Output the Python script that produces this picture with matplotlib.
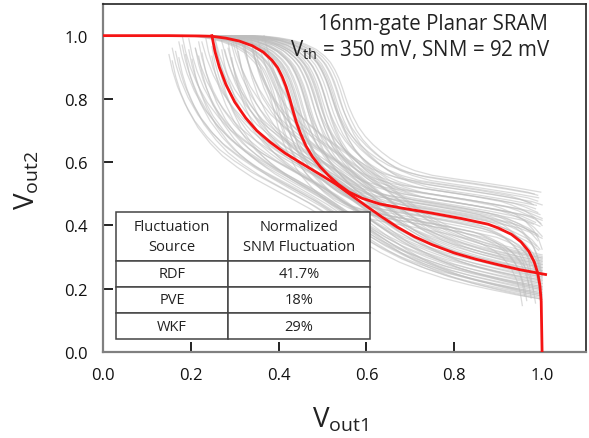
import matplotlib.pyplot as plt
import numpy as np

plt.rcParams['font.family'] = ['Open Sans', 'DejaVu Sans']

# Butterfly curves (red): inverter 1 as Vout2 = f(Vout1), inverter 2 as Vout1 = g(Vout2)
vtc1_x = [0.0, 0.15, 0.22, 0.248, 0.28, 0.31, 0.34, 0.365, 0.385, 0.398, 0.408, 0.417,
          0.425, 0.432, 0.440, 0.450, 0.462, 0.477, 0.495, 0.515, 0.535, 0.56, 0.59, 0.63,
          0.68, 0.745, 0.816, 0.877, 0.90, 0.93, 0.952, 0.97, 0.982, 0.99, 0.995, 0.998, 1.0]
vtc1_y = [1.0, 1.0, 0.999, 0.998, 0.992, 0.983, 0.968, 0.948, 0.922, 0.898, 0.870, 0.838,
          0.802, 0.766, 0.728, 0.690, 0.652, 0.617, 0.585, 0.556, 0.531, 0.506, 0.486, 0.468,
          0.455, 0.440, 0.422, 0.404, 0.392, 0.372, 0.348, 0.318, 0.285, 0.250, 0.210, 0.160, 0.0]
vtc2_x = [0.248, 0.255, 0.265, 0.28, 0.30, 0.325, 0.35, 0.38, 0.415, 0.455, 0.49, 0.53,
          0.565, 0.60, 0.635, 0.67, 0.71, 0.75, 0.80, 0.85, 0.90, 0.95, 1.0, 1.008]
vtc2_y = [1.0, 0.95, 0.90, 0.845, 0.79, 0.74, 0.70, 0.664, 0.628, 0.594, 0.565, 0.531,
          0.496, 0.461, 0.427, 0.395, 0.364, 0.339, 0.313, 0.293, 0.276, 0.260, 0.247, 0.245]

# Monte Carlo samples (gray): per-sample transition shift and gain stretch
mc1_dx = [-0.04, -0.035, -0.03, -0.025, -0.02, -0.015, -0.01, -0.005, 0.0, 0.005, 0.01,
          0.015, 0.02, 0.025, 0.03, 0.035, 0.04, 0.045, 0.05, 0.055, 0.06, 0.065, 0.07,
          0.075, 0.08, 0.085, 0.09, 0.095, 0.10, 0.105, 0.11, 0.115, 0.12, 0.0, 0.02, 0.04,
          0.06, 0.08, 0.10, 0.03, 0.05, -0.02, 0.07, 0.09, 0.01]
mc1_s = [1.08, 1.04, 1.06, 1.0, 1.05, 1.02, 1.07, 0.98, 1.03, 0.96, 1.01, 1.05, 0.95,
         0.99, 0.93, 1.02, 0.97, 0.91, 0.99, 0.94, 0.89, 0.96, 0.92, 0.87, 0.95, 0.9, 0.86,
         0.93, 0.88, 0.84, 0.9, 0.86, 0.83, 0.94, 1.07, 1.04, 1.0, 0.98, 0.96, 0.88, 0.85,
         0.95, 1.02, 0.83, 0.9]
mc2_dy = [-0.08, -0.075, -0.07, -0.065, -0.06, -0.055, -0.05, -0.045, -0.04, -0.035, -0.03,
          -0.025, -0.02, -0.015, -0.01, -0.005, 0.0, 0.005, 0.01, 0.015, 0.02, 0.025, 0.03,
          0.035, 0.04, 0.045, 0.05, 0.055, 0.06, -0.08, -0.07, -0.06, -0.05, -0.04, -0.03,
          -0.02, -0.01, 0.0, 0.01, 0.02, 0.03, 0.04, -0.065, 0.05, -0.045]
mc2_s = [1.12, 1.06, 1.1, 1.0, 1.08, 1.03, 1.11, 0.97, 1.05, 1.0, 1.09, 0.95, 1.04, 0.99,
         1.07, 0.93, 1.02, 0.97, 1.06, 0.91, 1.0, 0.95, 0.89, 0.98, 0.92, 0.87, 0.95, 0.9,
         0.86, 0.98, 0.94, 1.13, 0.92, 1.12, 0.9, 1.1, 0.88, 1.09, 0.96, 0.88, 1.04, 1.0,
         1.04, 0.85, 1.07]

# Inset table
table_header = ['Fluctuation\nSource', 'Normalized\nSNM Fluctuation']
sources = ['RDF', 'PVE', 'WKF']
snm_fluct = ['41.7%', '18%', '29%']

fig = plt.figure(figsize=(5.89, 4.39), dpi=100)
ax = fig.add_axes([103 / 589, 1 - 353 / 439, 483 / 589, 348 / 439])

x1 = np.array(vtc1_x[2:-2])
y1 = np.array(vtc1_y[2:-2])
x2 = np.array(vtc2_x)
y2 = np.array(vtc2_y)


def clip_trace(x, y):
    bad = (x > 1.0) | (y > 1.0) | (x < 0) | (y < 0)
    return np.where(bad, np.nan, x), np.where(bad, np.nan, y)


for dx, s in zip(mc1_dx, mc1_s):
    gx, gy = clip_trace(x1 + dx, 1.0 - (1.0 - y1) * s)
    ax.plot(gx, gy, color='#bdbdbd', lw=0.9, alpha=0.55, zorder=1)
for dy, s in zip(mc2_dy, mc2_s):
    gx, gy = clip_trace(1.0 - (1.0 - x2) * s, y2 + dy)
    ax.plot(gx, gy, color='#bdbdbd', lw=0.9, alpha=0.55, zorder=1)

ax.plot(vtc1_x, vtc1_y, color='#f51414', lw=2.0, zorder=3, solid_joinstyle='round')
ax.plot(vtc2_x, vtc2_y, color='#f51414', lw=2.0, zorder=3, solid_joinstyle='round')

ax.set_xlim(0, 1.1)
ax.set_ylim(0, 1.1)
ticks = [0.0, 0.2, 0.4, 0.6, 0.8, 1.0]
ax.set_xticks(ticks)
ax.set_yticks(ticks)
ax.set_xticklabels([f'{t:.1f}' for t in ticks])
ax.set_yticklabels([f'{t:.1f}' for t in ticks])
ax.tick_params(direction='in', length=7, width=1.3, pad=11, labelsize=12,
               colors='#111111')

for side in ['left', 'bottom']:
    ax.spines[side].set_color('#808080')
    ax.spines[side].set_linewidth(1.6)
for side in ['top', 'right']:
    ax.spines[side].set_color('#222222')
    ax.spines[side].set_linewidth(1.2)

ax.text(0.683, 0.943, '16nm-gate Planar SRAM', transform=ax.transAxes,
        ha='center', va='center', fontsize=14.8, color='#222222')
ax.text(0.658, 0.871, r'V$_\mathregular{th}$ = 350 mV, SNM = 92 mV',
        transform=ax.transAxes, ha='center', va='center', fontsize=14.8, color='#222222')

fig.text(340 / 589, 1 - 420 / 439, r'V$_\mathregular{out1}$', ha='center', va='center',
         fontsize=20, color='#222222')
fig.text(27 / 589, 1 - 180 / 439, r'V$_\mathregular{out2}$', ha='center', va='center',
         fontsize=20, color='#222222', rotation=90)

rows = [[src, val] for src, val in zip(sources, snm_fluct)]
tbl = ax.table(cellText=rows, colLabels=table_header, cellLoc='center',
               colWidths=[112, 142], bbox=[0.027, 0.037, 0.526, 0.366])
tbl.auto_set_font_size(False)
tbl.set_fontsize(10.5)
tbl.set_zorder(5)
for (r, c), cell in tbl.get_celld().items():
    cell.set_height(49 if r == 0 else 26.3)
    cell.set_edgecolor('#444444')
    cell.set_linewidth(1.1)
    cell.set_facecolor('white')
    cell.get_text().set_color('#222222')
    if r == 0:
        cell.get_text().set_linespacing(1.45)

fig.savefig('out.png', dpi=100)
